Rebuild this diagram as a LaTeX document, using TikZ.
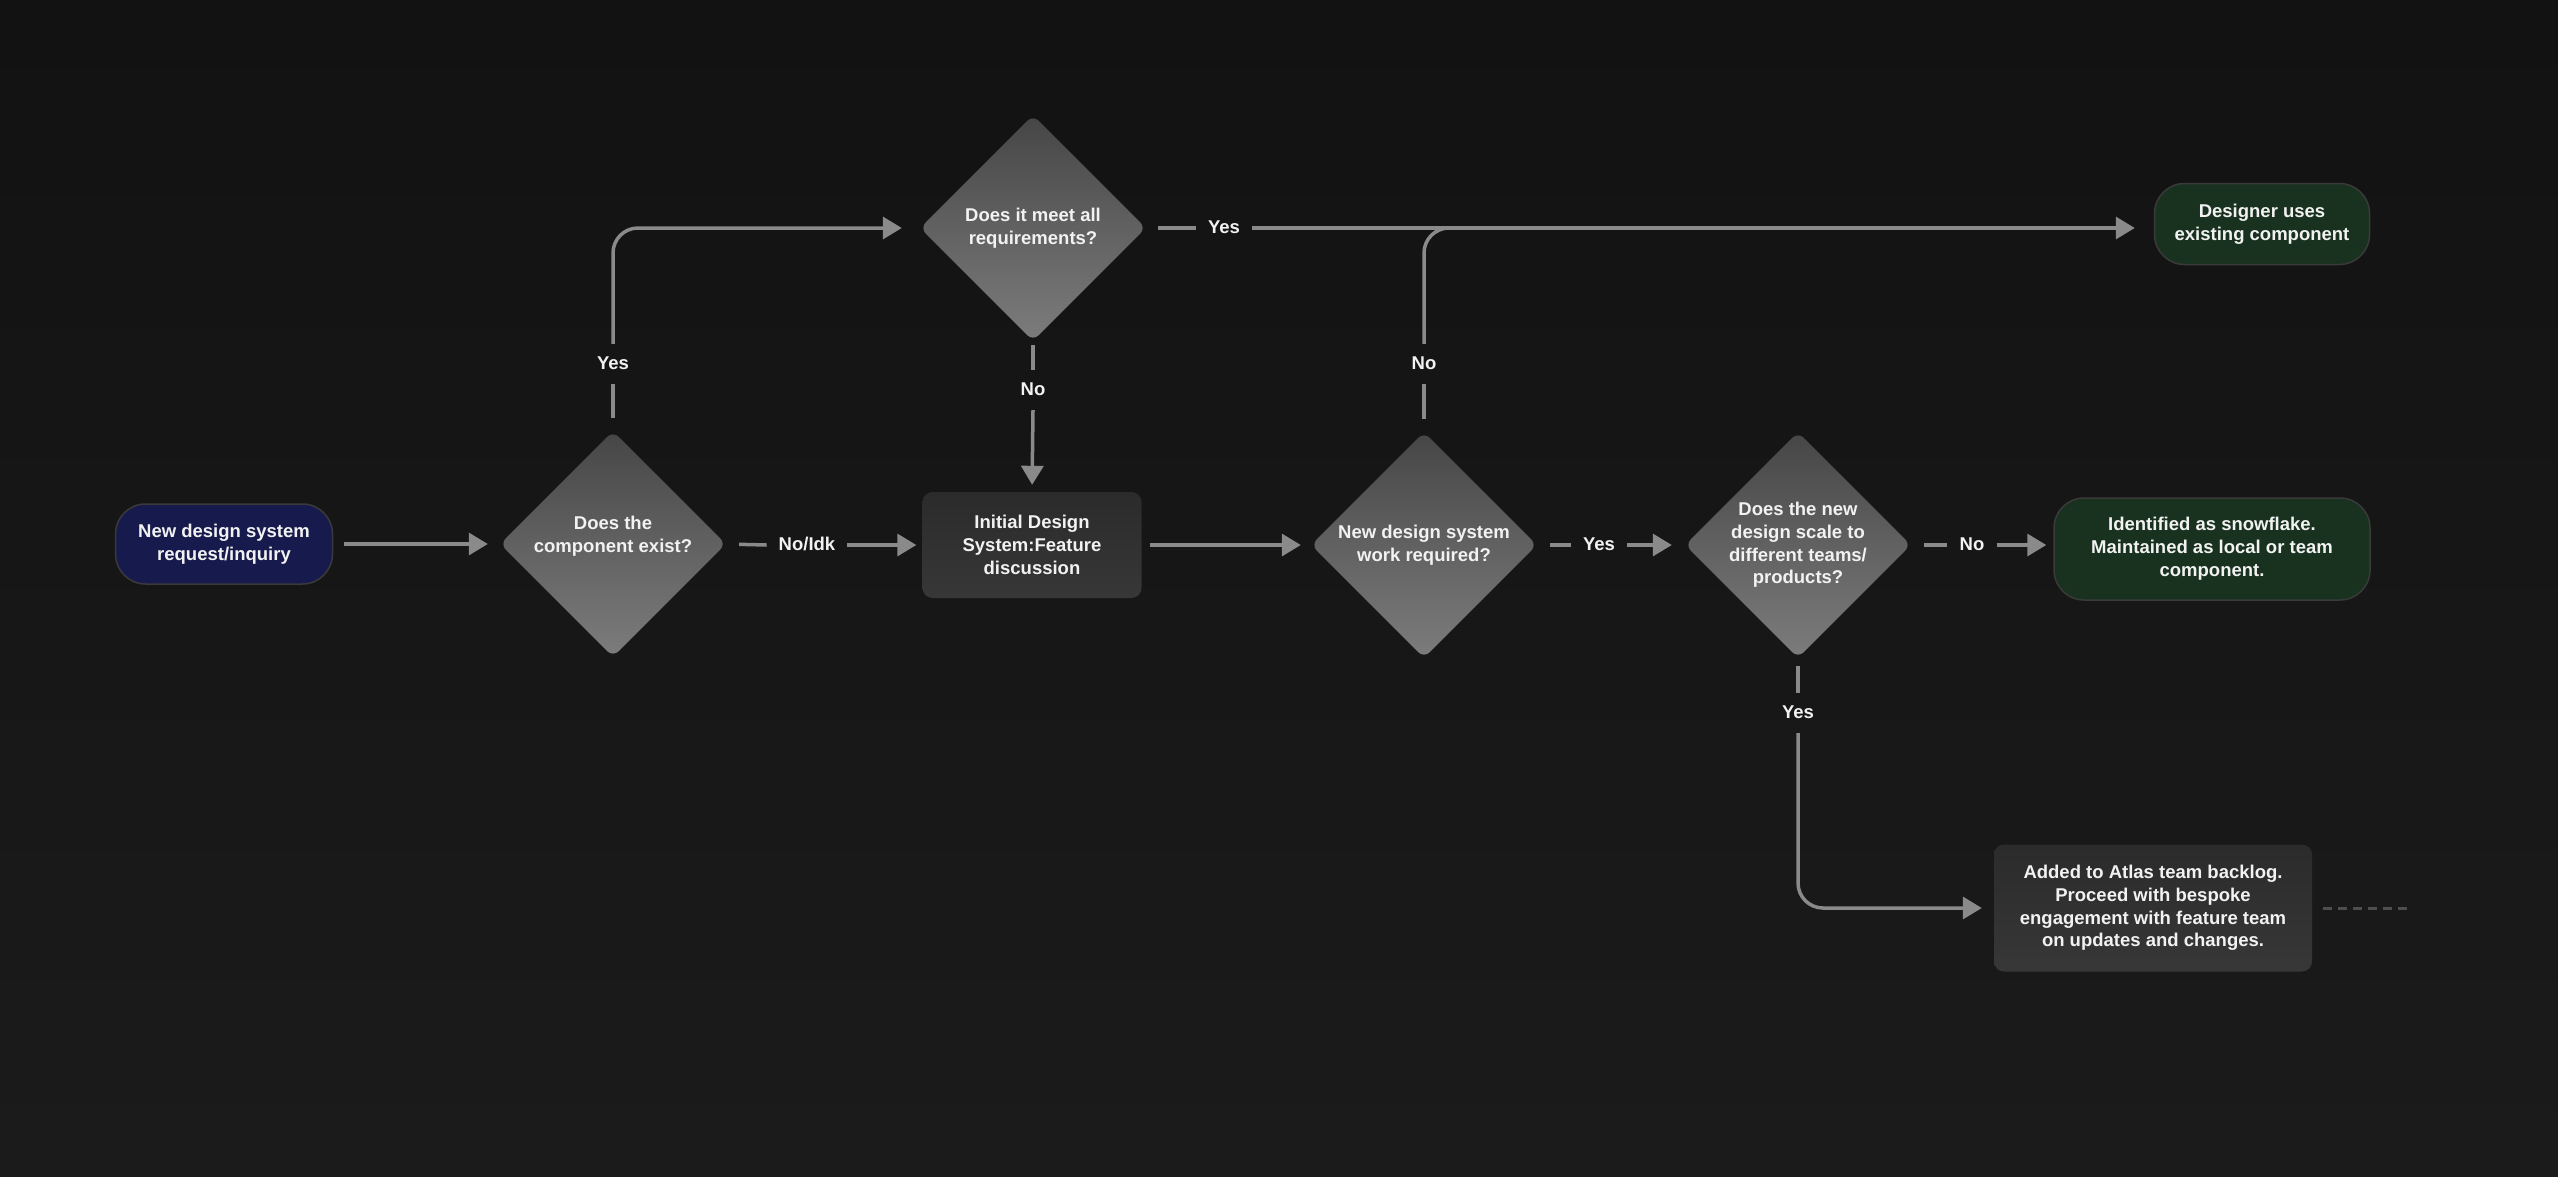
\documentclass[tikz,border=0pt]{standalone}
\usepackage{fontspec}
\setmainfont{Liberation Sans}
\usetikzlibrary{shapes.geometric,arrows.meta,calc}
\definecolor{bgtop}{HTML}{121212}
\definecolor{bgbot}{HTML}{1B1B1B}
\definecolor{linec}{HTML}{8A8A8A}
\definecolor{diatop}{HTML}{464646}
\definecolor{diabot}{HTML}{7C7C7C}
\definecolor{boxtop}{HTML}{2B2B2B}
\definecolor{boxbot}{HTML}{373737}
\definecolor{navy}{HTML}{161A4C}
\definecolor{darkgreen}{HTML}{18321F}
\definecolor{pillborder}{HTML}{3A3A3A}
\definecolor{txt}{HTML}{F2F2F2}
\begin{document}
\begin{tikzpicture}[x=1pt,y=1pt,
  font=\fontsize{18.5}{22.8}\selectfont\bfseries,
  every node/.style={text=txt},
  dia/.style={diamond, aspect=1, minimum width=226pt, minimum height=226pt, inner sep=0pt,
    rounded corners=8pt, top color=diatop, bottom color=diabot, align=center},
  pill/.style={rounded corners=30pt, draw=pillborder, line width=1.5pt, align=center, inner sep=0pt},
  procbox/.style={rounded corners=10pt, top color=boxtop, bottom color=boxbot, align=center, inner sep=0pt},
  lbl/.style={inner xsep=12pt, inner ysep=12pt, text height=13pt, text depth=3pt},
  conn/.style={draw=linec, line width=3.5pt},
  arr/.style={conn, -{Triangle[length=19pt,width=22pt]}}
]
\useasboundingbox (0,0) rectangle (2558,-1176);
\shade[top color=bgtop, bottom color=bgbot] (0,0) rectangle (2558,-1176);

% nodes
\node[pill, fill=navy, minimum width=217pt, minimum height=80pt] (start) at (224,-544) {New design system\\request/inquiry};
\node[dia, text depth=20pt] (d1) at (613,-544) {Does the\\component exist?};
\node[procbox, minimum width=219pt, minimum height=106pt] (b1) at (1032,-545) {Initial Design\\System:Feature\\discussion};
\node[dia] (d2) at (1033,-228) {Does it meet all\\requirements?};
\node[pill, fill=darkgreen, minimum width=215pt, minimum height=81pt] (e1) at (2262,-224) {Designer uses\\existing component};
\node[dia] (d3) at (1424,-545) {New design system\\work required?};
\node[dia] (d4) at (1798,-545) {Does the new\\design scale to\\different teams/\\products?};
\node[pill, fill=darkgreen, minimum width=316pt, minimum height=102pt] (e2) at (2212,-549) {Identified as snowflake.\\Maintained as local or team\\component.};
\node[procbox, minimum width=318pt, minimum height=127pt] (b2) at (2153,-908) {Added to Atlas team backlog.\\Proceed with bespoke\\engagement with feature team\\on updates and changes.};

% labels
\node[lbl] (l1) at (807,-545) {No/Idk};
\node[lbl] (l2) at (613,-364) {Yes};
\node[lbl] (l3) at (1033,-390) {No};
\node[lbl] (l4) at (1224,-228) {Yes};
\node[lbl] (l5) at (1424,-364) {No};
\node[lbl] (l6) at (1599,-545) {Yes};
\node[lbl] (l7) at (1972,-545) {No};
\node[lbl] (l8) at (1798,-713) {Yes};

\coordinate (m) at (1490,-228);
\coordinate (tail) at (2411,-908);

% connectors
\draw[arr, shorten <=11pt, shorten >=12pt] (start.east) -- (start.east -| d1.west);
\draw[conn, shorten <=13pt] (d1.east) -- (l1.west);
\draw[arr, shorten >=6pt] (l1.east) -- (l1.east -| b1.west);
\draw[conn, shorten <=13pt] (d1.north) -- (l2.south);
\draw[arr, rounded corners=25pt, shorten >=18pt] (l2.north) |- (d2.west);
\draw[conn, shorten <=4pt] (d2.south) -- (l3.north);
\draw[arr, shorten >=7pt] (l3.south) -- (b1.north);
\draw[conn, shorten <=12pt] (d2.east) -- (l4.west);
\draw[arr, shorten >=19pt] (l4.east) -- (l4.east -| e1.west);
\draw[conn, shorten <=13pt] (d3.north) -- (l5.south);
\draw[conn, rounded corners=25pt] (l5.north) |- (m);
\draw[arr, shorten <=8pt, shorten >=10pt] (b1.east) -- (d3.west);
\draw[conn, shorten <=13pt] (d3.east) -- (l6.west);
\draw[arr, shorten >=13pt] (l6.east) -- (d4.west);
\draw[conn, shorten <=13pt] (d4.east) -- (l7.west);
\draw[arr, shorten >=7pt] (l7.east) -- (l7.east -| e2.west);
\draw[conn, shorten <=8pt] (d4.south) -- (l8.north);
\draw[arr, rounded corners=25pt, shorten >=12pt] (l8.south) |- (b2.west);
\draw[draw=linec!50!bgtop, line width=3pt, dash pattern=on 9pt off 6pt, shorten <=11pt] (b2.east) -- (tail);
\end{tikzpicture}
\end{document}
